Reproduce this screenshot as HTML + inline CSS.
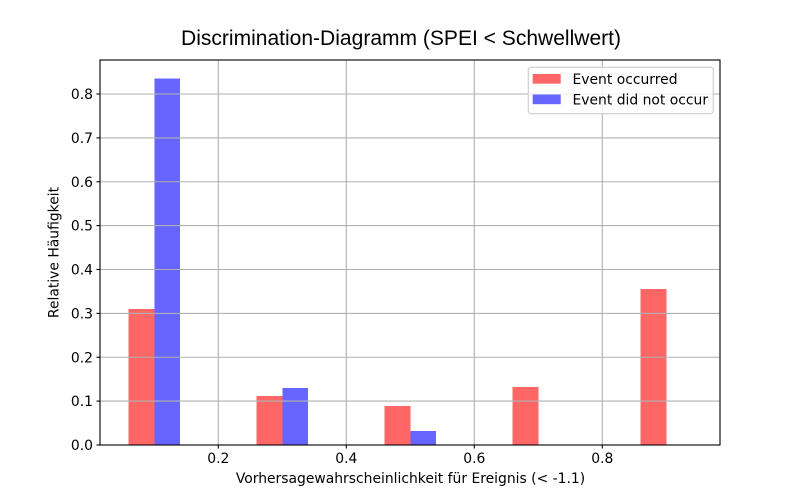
<!DOCTYPE html>
<html>
<head>
<meta charset="utf-8">
<style>
html,body{margin:0;padding:0;background:#fff;}
svg{display:block;}
text{font-family:"DejaVu Sans","Liberation Sans",sans-serif;fill:#000;}
</style>
</head>
<body>
<svg width="800" height="500" viewBox="0 0 800 500" xmlns="http://www.w3.org/2000/svg">
<rect x="0" y="0" width="800" height="500" fill="#fff"/>
<!-- title -->
<text x="401" y="45" text-anchor="middle" style="font-family:'Liberation Sans',Arial,sans-serif;font-size:21px" textLength="440" lengthAdjust="spacingAndGlyphs">Discrimination-Diagramm (SPEI &lt; Schwellwert)</text>

<!-- bars -->
<g shape-rendering="crispEdges">
<rect x="128.7" y="309" width="25.6" height="136" fill="#ff6666"/>
<rect x="154.3" y="78.3" width="25.6" height="366.7" fill="#6666ff"/>
<rect x="256.7" y="396" width="25.6" height="49" fill="#ff6666"/>
<rect x="282.3" y="388" width="25.6" height="57" fill="#6666ff"/>
<rect x="384.7" y="406" width="25.6" height="39" fill="#ff6666"/>
<rect x="410.3" y="431" width="25.6" height="14" fill="#6666ff"/>
<rect x="512.7" y="387" width="25.6" height="58" fill="#ff6666"/>
<rect x="640.7" y="289" width="25.6" height="156" fill="#ff6666"/>
</g>

<!-- grid -->
<g stroke="#b0b0b0" stroke-width="1.1">
<line x1="218.3" y1="60" x2="218.3" y2="445"/>
<line x1="346.3" y1="60" x2="346.3" y2="445"/>
<line x1="474.3" y1="60" x2="474.3" y2="445"/>
<line x1="602.3" y1="60" x2="602.3" y2="445"/>
<line x1="100" y1="401.1" x2="720" y2="401.1"/>
<line x1="100" y1="357.25" x2="720" y2="357.25"/>
<line x1="100" y1="313.4" x2="720" y2="313.4"/>
<line x1="100" y1="269.5" x2="720" y2="269.5"/>
<line x1="100" y1="225.6" x2="720" y2="225.6"/>
<line x1="100" y1="181.75" x2="720" y2="181.75"/>
<line x1="100" y1="137.9" x2="720" y2="137.9"/>
<line x1="100" y1="94" x2="720" y2="94"/>
</g>

<!-- spines -->
<rect x="100" y="60" width="620" height="385" fill="none" stroke="#000" stroke-width="1.1"/>

<!-- ticks -->
<g stroke="#000" stroke-width="1.1">
<line x1="218.3" y1="445" x2="218.3" y2="448.5"/>
<line x1="346.3" y1="445" x2="346.3" y2="448.5"/>
<line x1="474.3" y1="445" x2="474.3" y2="448.5"/>
<line x1="602.3" y1="445" x2="602.3" y2="448.5"/>
<line x1="96.5" y1="445" x2="100" y2="445"/>
<line x1="96.5" y1="401.1" x2="100" y2="401.1"/>
<line x1="96.5" y1="357.25" x2="100" y2="357.25"/>
<line x1="96.5" y1="313.4" x2="100" y2="313.4"/>
<line x1="96.5" y1="269.5" x2="100" y2="269.5"/>
<line x1="96.5" y1="225.6" x2="100" y2="225.6"/>
<line x1="96.5" y1="181.75" x2="100" y2="181.75"/>
<line x1="96.5" y1="137.9" x2="100" y2="137.9"/>
<line x1="96.5" y1="94" x2="100" y2="94"/>
</g>

<!-- tick labels -->
<g style="font-size:13.9px">
<text x="218.3" y="463" text-anchor="middle">0.2</text>
<text x="346.3" y="463" text-anchor="middle">0.4</text>
<text x="474.3" y="463" text-anchor="middle">0.6</text>
<text x="602.3" y="463" text-anchor="middle">0.8</text>
<g text-anchor="end">
<text x="93" y="450">0.0</text>
<text x="93" y="406.1">0.1</text>
<text x="93" y="362.25">0.2</text>
<text x="93" y="318.4">0.3</text>
<text x="93" y="274.5">0.4</text>
<text x="93" y="230.6">0.5</text>
<text x="93" y="186.75">0.6</text>
<text x="93" y="142.9">0.7</text>
<text x="93" y="99">0.8</text>
</g>
</g>

<!-- axis labels -->
<text x="410.5" y="483" text-anchor="middle" style="font-size:13.9px">Vorhersagewahrscheinlichkeit für Ereignis (&lt; -1.1)</text>
<text transform="translate(58.5,252.5) rotate(-90)" text-anchor="middle" style="font-size:13.9px">Relative Häufigkeit</text>

<!-- legend -->
<rect x="528.3" y="67.3" width="185" height="46.4" rx="2.8" ry="2.8" fill="#fff" fill-opacity="0.8" stroke="#cccccc" stroke-width="1.1"/>
<rect x="532.7" y="74" width="28" height="9.7" fill="#ff6666"/>
<rect x="532.7" y="94.5" width="28" height="9.7" fill="#6666ff"/>
<text x="572.5" y="84" style="font-size:13.9px">Event occurred</text>
<text x="572.5" y="104.3" style="font-size:13.9px">Event did not occur</text>
</svg>
</body>
</html>
